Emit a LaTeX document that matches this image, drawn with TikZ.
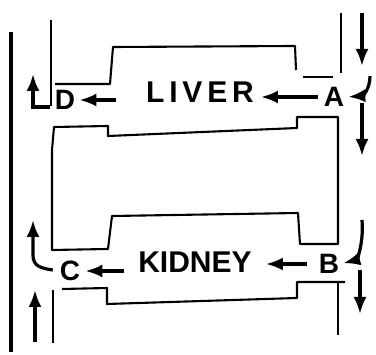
\documentclass[tikz,border=0pt]{standalone}
\usepackage{fontspec}
\setmainfont{Liberation Sans}
\usetikzlibrary{arrows.meta}

\begin{document}
\begin{tikzpicture}[x=1pt,y=-1pt,
    wall/.style={line width=2.1pt,line join=round},
    flow/.style={-{Latex[length=17pt,width=13pt]},line width=3.2pt},
    organ/.style={font=\fontsize{30}{32}\selectfont\bfseries,inner sep=2pt},
    site/.style={font=\fontsize{28}{30}\selectfont\bfseries,inner sep=1pt}]
\useasboundingbox (0,0) rectangle (376,355);
% vessel walls
\draw[line width=3.2pt] (11,32) -- (11,352);
\draw[wall] (51,20) -- (51,106);
\draw[wall] (55,84) -- (110,84) -- (113,47) -- (295,46) -- (296,70);
\draw[wall] (341,13) -- (341,73);
\draw[wall] (303,77) -- (333,77);
\draw[wall] (52,150) -- (54,127) -- (108,126) -- (108,136) -- (297,128) -- (297,117)
    -- (338,117) -- (338,244) -- (300,244) -- (298,213) -- (112,216) -- (108,249)
    -- (52,250) -- cycle;
\draw[wall] (62,289) -- (107,288) -- (107,304) -- (297,298) -- (297,282) -- (345,282);
\draw[wall] (338,282) -- (338,335);
\draw[wall] (53,290) -- (53,343);

\node[organ] (liver) at (200,92) {\addfontfeature{LetterSpace=16}LIVER};
\node[organ] (kidney) at (195,262) {KIDNEY};
\node[site] (A) at (334,97) {A};
\node[site] (B) at (329,264) {B};
\node[site] (C) at (70,271) {C};
\node[site] (D) at (65,100) {D};

\draw[flow,shorten <=5pt,shorten >=5pt] (A.west) -- (A.west -| liver.east);
\draw[flow,shorten <=28pt,shorten >=3pt] (D.east -| liver.west) -- (D.east);
\draw[flow,shorten <=11pt,shorten >=12pt] (B.west) -- (B.west -| kidney.east);
\draw[flow,shorten <=12pt,shorten >=4pt] (C.east -| kidney.west) -- (C.east);

\coordinate (topin) at (362,13);
\coordinate (topout) at (362,66);
\coordinate (aout) at (362,156);
\coordinate (bin) at (362,220);
\coordinate (bout) at (360,314);
\coordinate (dhook) at (50,107);
\coordinate (dtop) at (33,74);
\coordinate (ctop) at (33,220);
\coordinate (lowin) at (35,342);
\coordinate (lowout) at (35,290);
\draw[flow] (topin) -- (topout);
\draw[flow,shorten >=3pt] (370,76) .. controls (370,90) and (362,96) .. (A.east);
\draw[flow] (362,103) -- (aout);
\draw[flow,shorten >=3pt] (bin) .. controls (364,245) and (356,260) .. (B.east);
\draw[flow] (360,270) -- (bout);
\draw[flow] (dhook) -| (dtop);
\draw[flow,shorten <=6pt] (C.west) .. controls (40,268) and (33,266) .. (33,255) -- (ctop);
\draw[flow] (lowin) -- (lowout);
\end{tikzpicture}
\end{document}
